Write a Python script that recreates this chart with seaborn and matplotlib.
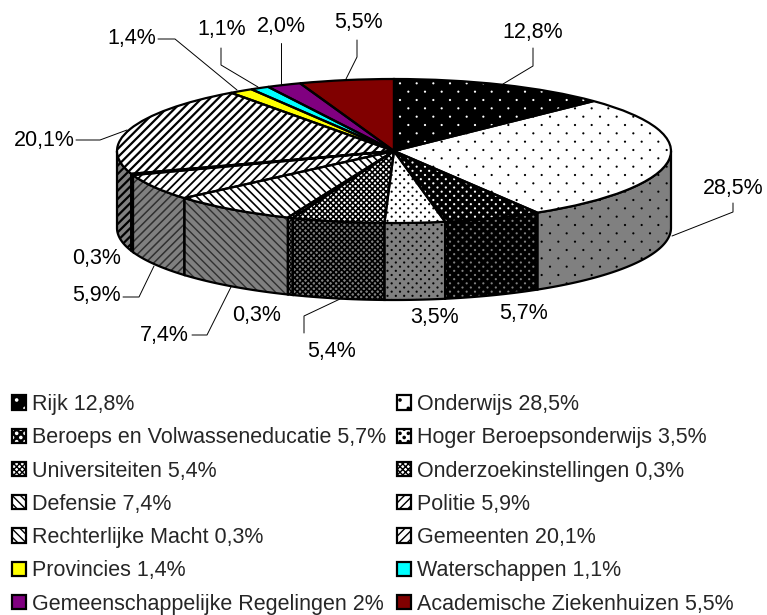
import numpy as np
import matplotlib
matplotlib.use("Agg")
import matplotlib.pyplot as plt
from matplotlib import hatch as mhatch
from matplotlib.legend_handler import HandlerTuple
from matplotlib.patches import Patch
from matplotlib.path import Path
import seaborn as sns

# ── Data ──────────────────────────────────────────────────────────
sectors = ["Rijk", "Onderwijs", "Beroeps en Volwasseneducatie", "Hoger Beroepsonderwijs",
           "Universiteiten", "Onderzoekinstellingen", "Defensie", "Politie",
           "Rechterlijke Macht", "Gemeenten", "Provincies", "Waterschappen",
           "Gemeenschappelijke Regelingen", "Academische Ziekenhuizen"]
shares = [12.8, 28.5, 5.7, 3.5, 5.4, 0.3, 7.4, 5.9, 0.3, 20.1, 1.4, 1.1, 2.0, 5.5]
legend_shares = ["12,8%", "28,5%", "5,7%", "3,5%", "5,4%", "0,3%", "7,4%",
                 "5,9%", "0,3%", "20,1%", "1,4%", "1,1%", "2%", "5,5%"]
slice_labels = ["12,8%", "28,5%", "5,7%", "3,5%", "5,4%", "0,3%", "7,4%",
                "5,9%", "0,3%", "20,1%", "1,4%", "1,1%", "2,0%", "5,5%"]

# ── Style ─────────────────────────────────────────────────────────
sns.set_theme(style="white")
plt.rcParams["font.family"] = ["Liberation Sans", "DejaVu Sans"]
FONT = 15.5


class StaggeredDots(mhatch.HatchPatternBase):
    """Excel style dots: rows twice as close as the columns, every other row shifted."""
    filled = True
    radius = 0.011

    def __init__(self, hatch, density):
        self.cols = int(hatch.count("*") * density)
        self.centers = []
        if self.cols:
            for row in range(2 * self.cols + 1):
                shift = 0.5 / self.cols if row % 2 else 0
                for col in range(self.cols + 1 - (row % 2)):
                    self.centers.append((col / self.cols + shift, row / (2 * self.cols)))
        self.circle = Path.unit_circle()
        self.num_vertices = len(self.centers) * len(self.circle.vertices)

    def set_vertices_and_codes(self, vertices, codes):
        n = len(self.circle.vertices)
        for i, center in enumerate(self.centers):
            vertices[i * n:(i + 1) * n] = self.circle.vertices * self.radius + center
            codes[i * n:(i + 1) * n] = self.circle.codes


mhatch._hatch_types[mhatch._hatch_types.index(mhatch.Stars)] = StaggeredDots

# (face, hatch colour, hatch, hatch width) for the top and the wall of each slice
top_style = [("black", "white", "*", 0), ("white", "black", "*", 0),
             ("black", "white", "**", 0), ("white", "black", "**", 0),
             ("white", "black", "xxxxxx", 1.2), ("white", "black", "xxxxxx", 1.0),
             ("white", "black", "\\\\\\\\", 1.2), ("white", "black", "////", 1.3),
             ("white", "black", "\\\\\\\\", 1.8), ("white", "black", "////", 1.6),
             ("#FFFF00", "#FFFF00", "", 0), ("#00FFFF", "#00FFFF", "", 0),
             ("#800080", "#800080", "", 0), ("#800000", "#800000", "", 0)]
wall_style = [("black", "#808080", "*", 0), ("#808080", "black", "*", 0),
              ("black", "#808080", "**", 0), ("#808080", "black", "**", 0),
              ("#808080", "black", "xxxxxx", 1.2), ("#808080", "black", "xxxxxx", 1.0),
              ("#808080", "#303030", "\\\\\\\\", 1.0), ("#808080", "#303030", "////", 1.1),
              ("#808080", "black", "\\\\\\\\", 1.8), ("#808080", "black", "////", 1.6),
              ("#808080", "#808080", "", 0), ("#008080", "#008080", "", 0),
              ("#400040", "#400040", "", 0), ("#400000", "#400000", "", 0)]

# pie geometry in pixels
W, H = 767, 615
CX, CY, RX, RY, DEPTH = 394, 151, 277, 72, 77


def to_data(px, py):
    return (px - CX) / RX, (CY - py) / RY


def hatched(patch, style):
    face, color, hatch, width = style
    patch.set(facecolor=face, edgecolor=color, hatch=hatch, linewidth=0)
    patch.set_hatch_linewidth(width)


fig = plt.figure(figsize=(W / 100, H / 100), dpi=100)
ax = fig.add_axes([0, 0, 1, 1])

# ── Wall ──────────────────────────────────────────────────────────
edges = np.cumsum([0] + shares) / sum(shares) * 2 * np.pi
for i in range(len(shares)):
    start, stop = max(edges[i], np.pi / 2), min(edges[i + 1], 3 * np.pi / 2)
    if stop <= start:
        continue
    t = np.linspace(start, stop, 60)
    x, y = np.sin(t), np.cos(t)
    xs = np.r_[x, x[::-1]]
    ys = np.r_[y, y[::-1] - DEPTH / RY]
    hatched(ax.fill(xs, ys, zorder=1)[0], wall_style[i])
    ax.fill(xs, ys, facecolor="none", edgecolor="black", linewidth=1.6, zorder=2)

# ── Top ───────────────────────────────────────────────────────────
filled, _ = ax.pie(shares, startangle=90, counterclock=False)
for wedge, style in zip(filled, top_style):
    hatched(wedge, style)
    wedge.set_zorder(3)
outlined, _ = ax.pie(shares, startangle=90, counterclock=False,
                     colors=["none"] * len(shares),
                     wedgeprops=dict(edgecolor="black", linewidth=1.6))
for wedge in outlined:
    wedge.set_zorder(4)

ax.set_aspect("auto")
ax.set_xlim(-CX / RX, (W - CX) / RX)
ax.set_ylim((CY - H) / RY, CY / RY)
ax.axis("off")

# ── Labels and leader lines ───────────────────────────────────────
label_pos = [(533, 32), (733, 188), (524, 314), (435, 317), (332, 351), (257, 315),
             (164, 335), (96, 296), (97, 258), (44, 140), (132, 38), (222, 29),
             (281, 26), (358, 22)]
leaders = [[(533, 48), (533, 66), (503, 84)],
           [(733, 203), (733, 212), (672, 236)],
           [(304, 333), (304, 316), (340, 299)],
           [(192, 335), (207, 335), (231, 287)],
           [(123, 297), (139, 297), (154, 266)],
           [(76, 140), (100, 140), (127, 130)],
           [(158, 39), (175, 39), (237, 90)],
           [(221, 48), (221, 65), (258, 87)],
           [(281, 43), (281, 84)],
           [(357, 40), (357, 57), (346, 79)]]
for text, pos in zip(slice_labels, label_pos):
    ax.text(*to_data(*pos), text, ha="center", va="center", fontsize=FONT, color="black")
for pts in leaders:
    lx, ly = zip(*[to_data(*p) for p in pts])
    ax.plot(lx, ly, color="black", linewidth=0.7, zorder=5)

# ── Legend ────────────────────────────────────────────────────────
handles = []
for style in top_style:
    swatch = Patch()
    hatched(swatch, style)
    handles.append((swatch, Patch(facecolor="none", edgecolor="black", linewidth=1.6)))
names = [f"{s} {v}" for s, v in zip(sectors, legend_shares)]
order = list(range(0, 14, 2)) + list(range(1, 14, 2))
ax.legend([handles[i] for i in order], [names[i] for i in order], ncols=2,
          handler_map={tuple: HandlerTuple(ndivide=1, pad=0)},
          loc="upper left", bbox_to_anchor=(12 / W, 1 - 394 / H), frameon=False,
          fontsize=FONT, borderpad=0, borderaxespad=0, handlelength=0.65, handleheight=0.65,
          handletextpad=0.28, labelspacing=0.57, columnspacing=0.51)

fig.savefig("out.png", dpi=100)
